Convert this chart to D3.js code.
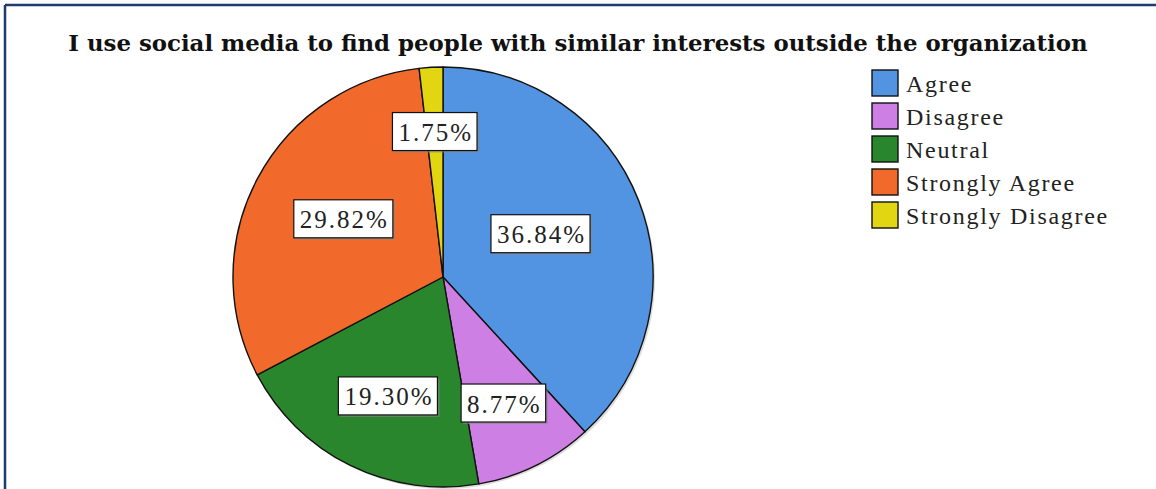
<!DOCTYPE html>
<html>
<head>
<meta charset="utf-8">
<script src="https://cdn.jsdelivr.net/npm/d3@7"></script>
<style>
  html, body { margin: 0; padding: 0; background: #fff; }
  svg { display: block; }
</style>
</head>
<body>
<svg id="chart" width="1156" height="489"></svg>
<script>
// Survey responses, in the order the slices run clockwise from 12 o'clock
const categories = ["Agree", "Disagree", "Neutral", "Strongly Agree", "Strongly Disagree"];
const percents = [36.84, 8.77, 19.30, 29.82, 1.75];
const colors = ["#5294E2", "#CD7FE3", "#2A862C", "#F1692B", "#E2D512"];
const titleText = "I use social media to find people with similar interests outside the organization";

const svg = d3.select("#chart");
const W = 1156, H = 489;

// Frame lines (top and left edges of the surrounding box)
svg.append("line").attr("x1", 5).attr("x2", W).attr("y1", 5).attr("y2", 5)
  .attr("stroke", "#1F3A6E").attr("stroke-width", 2.5);
svg.append("line").attr("x1", 5).attr("x2", 5).attr("y1", 5).attr("y2", H)
  .attr("stroke", "#1F3A6E").attr("stroke-width", 2.5);

// Title, sized to span its line
const title = svg.append("text")
  .attr("x", 578).attr("y", 51)
  .attr("text-anchor", "middle")
  .attr("font-family", "'DejaVu Serif', serif")
  .attr("font-weight", "bold")
  .attr("font-size", 20)
  .attr("fill", "#111")
  .text(titleText);
const tw = title.node().getComputedTextLength();
title.attr("font-size", 20 * 1020 / tw);

// Pie geometry
const cx = 443, cy = 277, R = 210;
const pie = d3.pie().sort(null).value(d => d.v);
const data = categories.map((c, i) => ({ name: c, v: percents[i], color: colors[i] }));
const arcs = pie(data);
const arc = d3.arc().innerRadius(0).outerRadius(R);

const g = svg.append("g").attr("transform", `translate(${cx},${cy})`);

// soft shadow along the rim
g.append("circle").attr("cx", 2).attr("cy", 2).attr("r", R)
  .attr("fill", "#bbb").attr("opacity", 0.5);

g.selectAll("path.slice")
  .data(arcs)
  .join("path")
  .attr("class", "slice")
  .attr("d", arc)
  .attr("fill", d => d.data.color)
  .attr("stroke", "#111")
  .attr("stroke-width", 1.4)
  .attr("stroke-linejoin", "round");

// Value labels: smaller slices push their labels further out,
// larger ones get nudged toward the horizontal midline of the pie
const fmt = d => d.toFixed(2) + "%";
const labelG = g.selectAll("g.lab")
  .data(arcs)
  .join("g")
  .attr("class", "lab")
  .attr("transform", d => {
    const mid = (d.startAngle + d.endAngle) / 2;
    const r = 147 - 1.15 * d.data.v;
    const x = r * Math.sin(mid);
    const y = -r * Math.cos(mid) - 16 * Math.cos(mid) * (d.data.v / 40);
    return `translate(${x},${y})`;
  });

labelG.each(function(d) {
  const sel = d3.select(this);
  const t = sel.append("text")
    .attr("text-anchor", "middle")
    .attr("dominant-baseline", "central")
    .attr("font-family", "'Liberation Serif', serif")
    .attr("font-size", 25)
    .attr("letter-spacing", 2)
    .attr("fill", "#222")
    .text(fmt(d.data.v));
  const w = t.node().getComputedTextLength();
  const bw = w + 10, bh = 38;
  sel.insert("rect", "text")
    .attr("x", -bw / 2 + 2).attr("y", -bh / 2 + 2)
    .attr("width", bw).attr("height", bh)
    .attr("fill", "#888").attr("opacity", 0.6);
  sel.insert("rect", "text")
    .attr("x", -bw / 2).attr("y", -bh / 2)
    .attr("width", bw).attr("height", bh)
    .attr("fill", "#fff").attr("stroke", "#111").attr("stroke-width", 1.2);
  t.attr("x", 1).attr("y", 1);
});

// Legend
const legX = 872, legY = 70, sw = 26, pitch = 33;
const leg = svg.append("g");
const rows = leg.selectAll("g.row")
  .data(data)
  .join("g")
  .attr("class", "row")
  .attr("transform", (d, i) => `translate(${legX},${legY + i * pitch})`);
rows.append("rect")
  .attr("width", sw).attr("height", sw)
  .attr("fill", d => d.color)
  .attr("stroke", "#111").attr("stroke-width", 1.4);
rows.append("text")
  .attr("x", sw + 8).attr("y", sw / 2 + 1)
  .attr("dominant-baseline", "central")
  .attr("font-family", "'Liberation Serif', serif")
  .attr("font-size", 24)
  .attr("letter-spacing", 1.7)
  .attr("fill", "#222")
  .text(d => d.name);
</script>
</body>
</html>
